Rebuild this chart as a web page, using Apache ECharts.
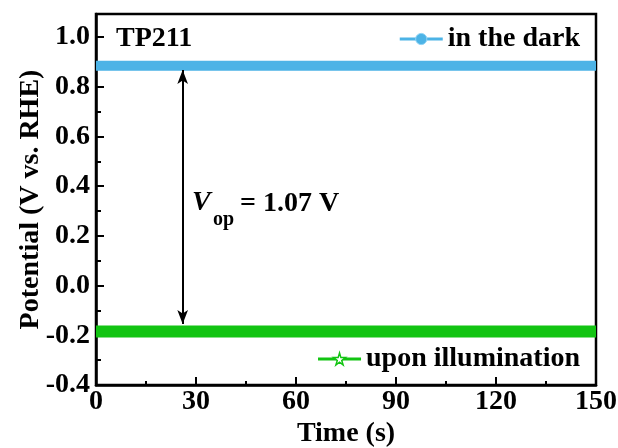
<!DOCTYPE html>
<html>
<head>
<meta charset="utf-8">
<script src="https://cdn.jsdelivr.net/npm/echarts@6/dist/echarts.min.js"></script>
<style>
    html, body { margin: 0; padding: 0; background: #fff; }
    #chart { width: 618px; height: 448px; }
</style>
</head>
<body>
<div id="chart"></div>
<script>
// data
var times = [0, 30, 60, 90, 120, 150];
var darkValues = [0.885, 0.885, 0.885, 0.885, 0.885, 0.885];
var lightValues = [-0.185, -0.185, -0.185, -0.185, -0.185, -0.185];
var xTicks = [0, 30, 60, 90, 120, 150];
var yTicks = [-0.4, -0.2, 0.0, 0.2, 0.4, 0.6, 0.8, 1.0];
var arrowTime = 26;
var arrowTop = 0.868;
var arrowBottom = -0.155;

var serif = '"Liberation Serif", "Times New Roman", serif';
var blue = '#4cb3e6';
var green = '#12c412';
var starPath = 'path://M50,0 L61,35 L98,35 L68,57 L79,91 L50,70 L21,91 L32,57 L2,35 L39,35 Z';

function pairs(xs, ys) {
    return xs.map(function (x, i) { return [x, ys[i]]; });
}

var vop = (darkValues[0] - lightValues[0]).toFixed(2);
var boldText = { fontFamily: serif, fontWeight: 'bold', fontSize: 28, color: '#000' };

var option = {
    backgroundColor: '#fff',
    animation: false,
    grid: {
        left: 96,
        right: 22,
        top: 14,
        bottom: 63,
        outerBoundsMode: 'none',
        containLabel: false,
        show: true,
        borderColor: '#000',
        borderWidth: 2.5
    },
    legend: [
        {
            data: ['in the dark'],
            right: 33,
            top: 20,
            itemWidth: 43,
            itemHeight: 14,
            itemGap: 4,
            lineStyle: { color: blue, width: 3 },
            itemStyle: { color: blue, borderColor: '#8fd3f5', borderWidth: 1 },
            textStyle: boldText
        },
        {
            data: ['upon illumination'],
            right: 33,
            top: 340,
            itemWidth: 43,
            itemHeight: 15,
            itemGap: 4,
            lineStyle: { color: green, width: 3 },
            itemStyle: { color: '#fff', borderColor: green, borderWidth: 1.5 },
            textStyle: boldText
        }
    ],
    xAxis: {
        type: 'value',
        min: xTicks[0],
        max: xTicks[xTicks.length - 1],
        interval: 30,
        name: 'Time (s)',
        nameLocation: 'middle',
        nameGap: 35,
        nameMoveOverlap: false,
        nameTextStyle: boldText,
        axisLine: { onZero: false, lineStyle: { color: '#000', width: 2.5 } },
        axisTick: { inside: true, length: 8, lineStyle: { color: '#000', width: 2 } },
        minorTick: { show: true, splitNumber: 2, length: 4, lineStyle: { color: '#000', width: 2 } },
        axisLabel: Object.assign({ margin: 3 }, boldText),
        splitLine: { show: false }
    },
    yAxis: {
        type: 'value',
        min: yTicks[0],
        max: 1.093,
        interval: 0.2,
        name: 'Potential (V vs. RHE)',
        nameLocation: 'middle',
        nameGap: 51,
        nameMoveOverlap: false,
        nameTextStyle: boldText,
        axisLine: { onZero: false, lineStyle: { color: '#000', width: 2.5 } },
        axisTick: { inside: true, length: 8, lineStyle: { color: '#000', width: 2 } },
        minorTick: { show: true, splitNumber: 2, length: 5, lineStyle: { color: '#000', width: 2 } },
        axisLabel: Object.assign({
            margin: 6,
            showMaxLabel: false,
            formatter: function (v) { return v.toFixed(1); }
        }, boldText),
        splitLine: { show: false }
    },
    series: [
        {
            name: 'in the dark',
            type: 'line',
            data: pairs(times, darkValues),
            showSymbol: false,
            symbol: 'circle',
            symbolSize: 10,
            itemStyle: { color: blue },
            lineStyle: { color: blue, width: 10 },
            markLine: {
                silent: true,
                symbol: ['arrow', 'arrow'],
                symbolSize: [8, 14],
                label: { show: false },
                lineStyle: { color: '#000', width: 2, type: 'solid' },
                data: [[
                    { coord: [arrowTime, arrowTop] },
                    { coord: [arrowTime, arrowBottom] }
                ]]
            }
        },
        {
            name: 'upon illumination',
            type: 'line',
            data: pairs(times, lightValues),
            showSymbol: false,
            symbol: starPath,
            symbolSize: 12,
            itemStyle: { color: '#fff', borderColor: green, borderWidth: 1.5 },
            lineStyle: { color: green, width: 12 }
        }
    ],
    graphic: [
        {
            type: 'text', left: 116, top: 25,
            style: { text: 'TP211', fontFamily: serif, fontWeight: 'bold', fontSize: 28, fill: '#000' }
        },
        {
            type: 'text', left: 192, top: 189,
            style: { text: 'V', fontFamily: serif, fontWeight: 'bold', fontStyle: 'italic', fontSize: 28, fill: '#000' }
        },
        {
            type: 'text', left: 213, top: 210,
            style: { text: 'op', fontFamily: serif, fontWeight: 'bold', fontSize: 20, fill: '#000' }
        },
        {
            type: 'text', left: 240, top: 190,
            style: { text: '= ' + vop + ' V', fontFamily: serif, fontWeight: 'bold', fontSize: 28, fill: '#000' }
        }
    ]
};

var myChart = echarts.init(document.getElementById('chart'));
myChart.setOption(option);
</script>
</body>
</html>
